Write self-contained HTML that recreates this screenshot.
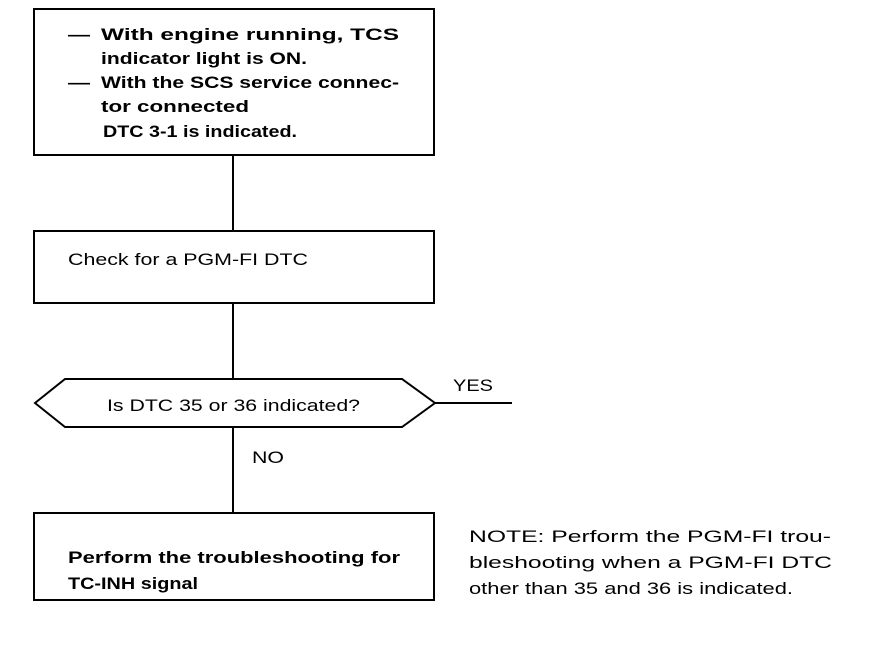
<!DOCTYPE html>
<html><head><meta charset="utf-8"><style>
html,body{margin:0;padding:0;background:#fff;width:880px;height:648px;overflow:hidden}
svg text{font-family:"Liberation Sans",Arial,sans-serif;fill:#000}
.b{font-weight:bold}
</style></head><body>
<svg width="880" height="648" viewBox="0 0 880 648" xmlns="http://www.w3.org/2000/svg">
<g fill="none" stroke="#000" stroke-width="2">
<rect x="34" y="9" width="400" height="146"/>
<line x1="233" y1="155" x2="233" y2="231"/>
<rect x="34" y="231" width="400" height="72"/>
<line x1="233" y1="303" x2="233" y2="379"/>
<polygon points="35,403 65,379 402,379 435,403 402,427 65,427"/>
<line x1="435" y1="403" x2="512" y2="403"/>
<line x1="233" y1="427" x2="233" y2="513"/>
<rect x="34" y="513" width="400" height="87"/>
</g>
<g class="b" font-size="17">
<text x="68" y="40" textLength="22" lengthAdjust="spacingAndGlyphs">—</text>
<text x="101" y="40" textLength="298" lengthAdjust="spacingAndGlyphs">With engine running, TCS</text>
<text x="101" y="64" textLength="206" lengthAdjust="spacingAndGlyphs">indicator light is ON.</text>
<text x="68" y="88" textLength="22" lengthAdjust="spacingAndGlyphs">—</text>
<text x="101" y="88" textLength="298" lengthAdjust="spacingAndGlyphs">With the SCS service connec-</text>
<text x="101" y="112" textLength="148" lengthAdjust="spacingAndGlyphs">tor connected</text>
<text x="103" y="137" textLength="194" lengthAdjust="spacingAndGlyphs">DTC 3-1 is indicated.</text>
<text x="68" y="563" textLength="332" lengthAdjust="spacingAndGlyphs">Perform the troubleshooting for</text>
<text x="68" y="589" textLength="130" lengthAdjust="spacingAndGlyphs">TC-INH signal</text>
</g>
<g font-size="17">
<text x="68" y="265" textLength="240" lengthAdjust="spacingAndGlyphs">Check for a PGM-FI DTC</text>
<text x="107" y="411" textLength="253" lengthAdjust="spacingAndGlyphs">Is DTC 35 or 36 indicated?</text>
<text x="453" y="391" textLength="40" lengthAdjust="spacingAndGlyphs">YES</text>
<text x="252" y="463" textLength="32" lengthAdjust="spacingAndGlyphs">NO</text>
<text x="469" y="542" textLength="362" lengthAdjust="spacingAndGlyphs">NOTE: Perform the PGM-FI trou-</text>
<text x="469" y="568" textLength="363" lengthAdjust="spacingAndGlyphs">bleshooting when a PGM-FI DTC</text>
<text x="469" y="594" textLength="324" lengthAdjust="spacingAndGlyphs">other than 35 and 36 is indicated.</text>
</g>
</svg>
</body></html>
